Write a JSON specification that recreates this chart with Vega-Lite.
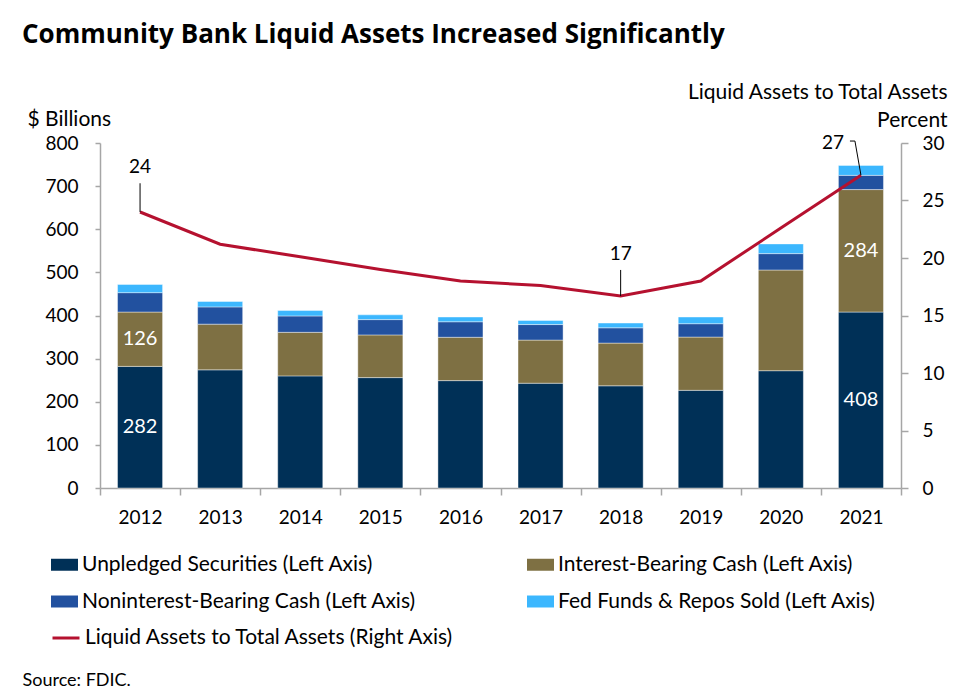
{
  "$schema": "https://vega.github.io/schema/vega-lite/v6.json",
  "width": 801,
  "height": 345,
  "autosize": {"type": "none"},
  "padding": {"left": 100, "top": 143, "right": 54, "bottom": 208},
  "background": "white",
  "config": {
    "font": "Lato",
    "view": {"stroke": null},
    "axis": {
      "domainColor": "#a6a6a6",
      "tickColor": "#a6a6a6",
      "domainWidth": 1.5,
      "tickWidth": 1.5,
      "labelFont": "Lato",
      "labelFontSize": 19,
      "labelColor": "black",
      "grid": false,
      "titleFont": "Lato",
      "titleFontSize": 21,
      "titleFontWeight": "normal",
      "titleColor": "black"
    },
    "legend": {"labelFont": "Lato", "labelFontSize": 21, "labelColor": "black", "padding": 0, "labelLimit": 600}
  },
  "title": {
    "text": "Community Bank Liquid Assets Increased Significantly",
    "anchor": "start",
    "frame": "group",
    "dx": -78,
    "offset": 33,
    "fontSize": 26,
    "fontWeight": "bold",
    "font": "Open Sans",
    "color": "black"
  },
  "datasets": {
    "bars": [
      {"year": "2012", "category": "Unpledged Securities (Left Axis)", "rank": 1, "value": 282},
      {"year": "2012", "category": "Interest-Bearing Cash (Left Axis)", "rank": 2, "value": 126},
      {"year": "2012", "category": "Noninterest-Bearing Cash (Left Axis)", "rank": 3, "value": 45},
      {"year": "2012", "category": "Fed Funds & Repos Sold (Left Axis)", "rank": 4, "value": 19},
      {"year": "2013", "category": "Unpledged Securities (Left Axis)", "rank": 1, "value": 274},
      {"year": "2013", "category": "Interest-Bearing Cash (Left Axis)", "rank": 2, "value": 106},
      {"year": "2013", "category": "Noninterest-Bearing Cash (Left Axis)", "rank": 3, "value": 40},
      {"year": "2013", "category": "Fed Funds & Repos Sold (Left Axis)", "rank": 4, "value": 12.5},
      {"year": "2014", "category": "Unpledged Securities (Left Axis)", "rank": 1, "value": 260},
      {"year": "2014", "category": "Interest-Bearing Cash (Left Axis)", "rank": 2, "value": 101},
      {"year": "2014", "category": "Noninterest-Bearing Cash (Left Axis)", "rank": 3, "value": 38},
      {"year": "2014", "category": "Fed Funds & Repos Sold (Left Axis)", "rank": 4, "value": 12.5},
      {"year": "2015", "category": "Unpledged Securities (Left Axis)", "rank": 1, "value": 256},
      {"year": "2015", "category": "Interest-Bearing Cash (Left Axis)", "rank": 2, "value": 99},
      {"year": "2015", "category": "Noninterest-Bearing Cash (Left Axis)", "rank": 3, "value": 35.5},
      {"year": "2015", "category": "Fed Funds & Repos Sold (Left Axis)", "rank": 4, "value": 11},
      {"year": "2016", "category": "Unpledged Securities (Left Axis)", "rank": 1, "value": 249},
      {"year": "2016", "category": "Interest-Bearing Cash (Left Axis)", "rank": 2, "value": 100.5},
      {"year": "2016", "category": "Noninterest-Bearing Cash (Left Axis)", "rank": 3, "value": 36},
      {"year": "2016", "category": "Fed Funds & Repos Sold (Left Axis)", "rank": 4, "value": 11},
      {"year": "2017", "category": "Unpledged Securities (Left Axis)", "rank": 1, "value": 243},
      {"year": "2017", "category": "Interest-Bearing Cash (Left Axis)", "rank": 2, "value": 100},
      {"year": "2017", "category": "Noninterest-Bearing Cash (Left Axis)", "rank": 3, "value": 36},
      {"year": "2017", "category": "Fed Funds & Repos Sold (Left Axis)", "rank": 4, "value": 9.5},
      {"year": "2018", "category": "Unpledged Securities (Left Axis)", "rank": 1, "value": 237},
      {"year": "2018", "category": "Interest-Bearing Cash (Left Axis)", "rank": 2, "value": 99},
      {"year": "2018", "category": "Noninterest-Bearing Cash (Left Axis)", "rank": 3, "value": 35.5},
      {"year": "2018", "category": "Fed Funds & Repos Sold (Left Axis)", "rank": 4, "value": 11},
      {"year": "2019", "category": "Unpledged Securities (Left Axis)", "rank": 1, "value": 226.5},
      {"year": "2019", "category": "Interest-Bearing Cash (Left Axis)", "rank": 2, "value": 123.5},
      {"year": "2019", "category": "Noninterest-Bearing Cash (Left Axis)", "rank": 3, "value": 31},
      {"year": "2019", "category": "Fed Funds & Repos Sold (Left Axis)", "rank": 4, "value": 15.5},
      {"year": "2020", "category": "Unpledged Securities (Left Axis)", "rank": 1, "value": 272},
      {"year": "2020", "category": "Interest-Bearing Cash (Left Axis)", "rank": 2, "value": 233.5},
      {"year": "2020", "category": "Noninterest-Bearing Cash (Left Axis)", "rank": 3, "value": 38},
      {"year": "2020", "category": "Fed Funds & Repos Sold (Left Axis)", "rank": 4, "value": 22.5},
      {"year": "2021", "category": "Unpledged Securities (Left Axis)", "rank": 1, "value": 408},
      {"year": "2021", "category": "Interest-Bearing Cash (Left Axis)", "rank": 2, "value": 284},
      {"year": "2021", "category": "Noninterest-Bearing Cash (Left Axis)", "rank": 3, "value": 33},
      {"year": "2021", "category": "Fed Funds & Repos Sold (Left Axis)", "rank": 4, "value": 23}
    ],
    "barlabels": [
      {"year": "2012", "mid": 141, "label": "282"},
      {"year": "2012", "mid": 345, "label": "126"},
      {"year": "2021", "mid": 204, "label": "408"},
      {"year": "2021", "mid": 550, "label": "284"}
    ],
    "ratio": [
      {"year": "2012", "series": "Liquid Assets to Total Assets (Right Axis)", "pct": 24.0},
      {"year": "2013", "series": "Liquid Assets to Total Assets (Right Axis)", "pct": 21.2},
      {"year": "2014", "series": "Liquid Assets to Total Assets (Right Axis)", "pct": 20.1},
      {"year": "2015", "series": "Liquid Assets to Total Assets (Right Axis)", "pct": 19.0},
      {"year": "2016", "series": "Liquid Assets to Total Assets (Right Axis)", "pct": 18.0},
      {"year": "2017", "series": "Liquid Assets to Total Assets (Right Axis)", "pct": 17.6},
      {"year": "2018", "series": "Liquid Assets to Total Assets (Right Axis)", "pct": 16.7},
      {"year": "2019", "series": "Liquid Assets to Total Assets (Right Axis)", "pct": 18.0},
      {"year": "2020", "series": "Liquid Assets to Total Assets (Right Axis)", "pct": 22.6},
      {"year": "2021", "series": "Liquid Assets to Total Assets (Right Axis)", "pct": 27.2}
    ],
    "leaders": [
      {"year": "2012", "from": 24.0, "to": 26.5},
      {"year": "2018", "from": 16.7, "to": 18.96}
    ],
    "leader2021": [
      {"year": "2021", "from": 27.2, "to": 30.17}
    ],
    "linelabels": [
      {"year": "2012", "pos": 27.87, "label": "24"},
      {"year": "2018", "pos": 20.35, "label": "17"}
    ],
    "linelabel2021": [
      {"year": "2021", "pos": 30.04, "label": "27"}
    ]
  },
  "encoding": {
    "x": {
      "field": "year",
      "type": "ordinal",
      "scale": {"type": "band", "paddingInner": 0, "paddingOuter": 0},
      "axis": {
        "labelAngle": 0,
        "tickBand": "extent",
        "tickSize": 7,
        "labelPadding": 13,
        "title": "Source: FDIC.",
        "titleFontSize": 18,
        "titleX": -78,
        "titleY": 197,
        "titleAlign": "left",
        "titleBaseline": "alphabetic",
        "titleAnchor": "start"
      }
    }
  },
  "layer": [
    {
      "layer": [
        {
          "data": {"name": "bars"},
          "mark": {"type": "bar", "width": {"band": 0.5625}, "stroke": "#ffffff", "strokeWidth": 0.6, "strokeOpacity": 0.7},
          "encoding": {
            "y": {
              "field": "value",
              "type": "quantitative",
              "stack": "zero",
              "scale": {"domain": [0, 800], "nice": false},
              "axis": {
                "values": [0, 100, 200, 300, 400, 500, 600, 700, 800],
                "tickSize": 5,
                "labelPadding": 17,
                "title": "$ Billions",
                "titleAngle": 0,
                "titleAlign": "left",
                "titleBaseline": "alphabetic",
                "titleX": -73,
                "titleY": -18
              }
            },
            "color": {
              "field": "category",
              "type": "nominal",
              "scale": {
                "domain": ["Unpledged Securities (Left Axis)", "Interest-Bearing Cash (Left Axis)", "Noninterest-Bearing Cash (Left Axis)", "Fed Funds & Repos Sold (Left Axis)"],
                "range": ["#003057", "#7e7043", "#22519f", "#3cb7fe"]
              },
              "legend": {
                "orient": "none",
                "legendX": -49,
                "legendY": 408,
                "direction": "horizontal",
                "columns": 2,
                "columnPadding": 111,
                "rowPadding": 13,
                "symbolType": "M-1,-0.444H1V0.444H-1Z",
                "symbolSize": 729,
                "symbolStrokeWidth": 0,
                "labelOffset": 4,
                "title": null
              }
            },
            "order": {"field": "rank", "type": "quantitative"}
          }
        },
        {
          "data": {"name": "barlabels"},
          "mark": {"type": "text", "color": "white", "fontSize": 20, "align": "center", "baseline": "middle", "font": "Lato"},
          "encoding": {
            "y": {"field": "mid", "type": "quantitative"},
            "text": {"field": "label"}
          }
        }
      ]
    },
    {
      "layer": [
        {
          "data": {"name": "ratio"},
          "mark": {"type": "line", "strokeWidth": 3},
          "encoding": {
            "y": {
              "field": "pct",
              "type": "quantitative",
              "scale": {"domain": [0, 30], "nice": false},
              "axis": {
                "orient": "right",
                "values": [0, 5, 10, 15, 20, 25, 30],
                "tickSize": 7,
                "labelPadding": 14,
                "title": ["Liquid Assets to Total Assets", "Percent"],
                "titleAngle": 0,
                "titleAlign": "right",
                "titleBaseline": "alphabetic",
                "titleLineHeight": 28,
                "titleX": 46,
                "titleY": -45
              }
            },
            "stroke": {
              "field": "series",
              "type": "nominal",
              "scale": {"range": ["#b5112f"]},
              "legend": {
                "orient": "none",
                "legendX": -49,
                "legendY": 480,
                "symbolType": "stroke",
                "symbolSize": 729,
                "symbolStrokeWidth": 3,
                "labelOffset": 4,
                "title": null
              }
            }
          }
        },
        {
          "data": {"name": "leaders"},
          "mark": {"type": "rule", "color": "black", "strokeWidth": 1},
          "encoding": {
            "y": {"field": "from", "type": "quantitative"},
            "y2": {"field": "to"}
          }
        },
        {
          "data": {"name": "leader2021"},
          "mark": {"type": "rule", "color": "black", "strokeWidth": 1, "x2Offset": -6},
          "encoding": {
            "x2": {"field": "year"},
            "y": {"field": "from", "type": "quantitative"},
            "y2": {"field": "to"}
          }
        },
        {
          "data": {"name": "leader2021"},
          "mark": {"type": "rule", "color": "black", "strokeWidth": 1, "xOffset": -11, "x2Offset": -6},
          "encoding": {
            "x2": {"field": "year"},
            "y": {"field": "to", "type": "quantitative"}
          }
        },
        {
          "data": {"name": "linelabels"},
          "mark": {"type": "text", "color": "black", "fontSize": 19, "align": "center", "baseline": "middle", "font": "Lato"},
          "encoding": {
            "y": {"field": "pos", "type": "quantitative"},
            "text": {"field": "label"}
          }
        },
        {
          "data": {"name": "linelabel2021"},
          "mark": {"type": "text", "color": "black", "fontSize": 19, "align": "right", "baseline": "middle", "dx": -17, "font": "Lato"},
          "encoding": {
            "y": {"field": "pos", "type": "quantitative"},
            "text": {"field": "label"}
          }
        }
      ]
    }
  ],
  "resolve": {"scale": {"y": "independent"}}
}
